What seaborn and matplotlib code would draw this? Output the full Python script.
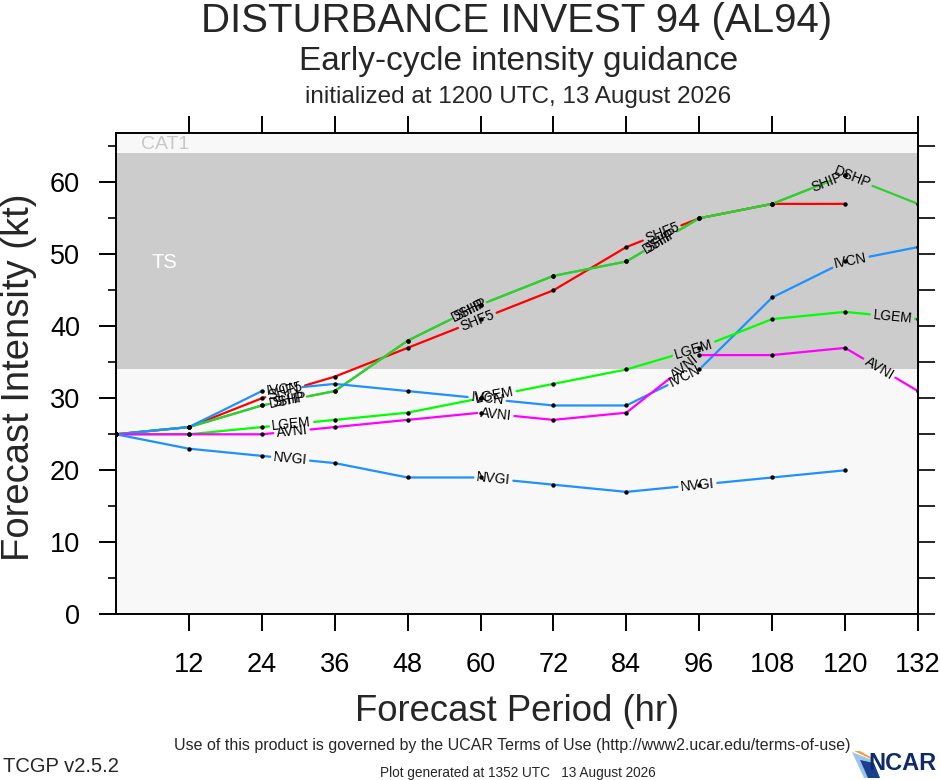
import numpy as np
import pandas as pd
import matplotlib
matplotlib.use("Agg")
import matplotlib.pyplot as plt
from matplotlib.patches import Polygon
import seaborn as sns

# forecast hours and intensities (kt)
hours = [0, 12, 24, 36, 48, 60, 72, 84, 96, 108, 120, 132]
shf5 = [25, 26, 30, 33, 37, 41, 45, 51, 55, 57, 57, np.nan]
ship = [25, 26, 29, 31, 38, 43, 47, 49, 55, 57, 61, np.nan]
dshp = [25, 26, 29, 31, 38, 43, 47, 49, 55, 57, 61, 57]
lgem = [25, 25, 26, 27, 28, 30, 32, 34, 37, 41, 42, 41]
ivcn = [25, 26, 31, 32, 31, 30, 29, 29, 34, 44, 49, 51]
avni = [25, 25, 25, 26, 27, 28, 27, 28, 36, 36, 37, 31]
nvgi = [25, 23, 22, 21, 19, 19, 18, 17, 18, 19, 20, np.nan]

models = ["SHF5", "SHIP", "DSHP", "IVCN", "LGEM", "AVNI", "NVGI"]
values = [shf5, ship, dshp, ivcn, lgem, avni, nvgi]
colors = ["#ff0000", "#33cc33", "#33cc33", "#1e90ff", "#00ff00", "#ff00ff", "#1e90ff"]

xticks = [12, 24, 36, 48, 60, 72, 84, 96, 108, 120, 132]
yticks = [0, 10, 20, 30, 40, 50, 60]

rows = []
for name, vals in zip(models, values):
    for h, v in zip(hours, vals):
        if not np.isnan(v):
            rows.append({"model": name, "hour": h, "kt": v})
df = pd.DataFrame(rows)

sns.set_theme(style="ticks")
plt.rcParams["font.family"] = ["Liberation Sans", "DejaVu Sans"]

fig = plt.figure(figsize=(9.4, 7.8), dpi=100)
ax = fig.add_axes([116 / 940, (780 - 614.3) / 780, 802 / 940, 481 / 780])
ax.set_xlim(0, 132)
ax.set_ylim(0, 66.8)
ax.set_facecolor("#f8f8f8")
ax.axhspan(34, 64, color="#cccccc", zorder=0, lw=0)
ax.text(4.1, 65.25, "CAT1", color="#c8c8c8", fontsize=14, va="center", ha="left")
ax.text(5.9, 48.9, "TS", color="white", fontsize=14.5, va="center", ha="left")

for sp in ax.spines.values():
    sp.set_linewidth(1.4)
    sp.set_color("black")
ax.set_xticks(xticks)
ax.set_yticks(yticks)
ax.set_yticks(range(5, 66, 10), minor=True)
ax.tick_params(axis="both", which="major", length=12, width=1.4, labelsize=19.5,
               color="black", labelcolor="black", direction="out")
ax.tick_params(axis="x", pad=15.5, top=True)
ax.tick_params(axis="y", pad=14)
ax.tick_params(axis="y", which="minor", length=6, width=1.4, direction="out")
ax.grid(False)

sec = ax.secondary_yaxis("right")
sec.set_yticks(range(0, 66, 5))
sec.set_yticklabels([])
sec.tick_params(length=12, width=1.4, direction="out")
sec.spines["right"].set_linewidth(1.4)

fig.canvas.draw()
renderer = fig.canvas.get_renderer()

# line labels sit along each curve at a fixed arc-length spacing (pixels)
label_first = 176.0
label_step = 205.0
label_size = 10

pieces = []
for name, vals, col in zip(models, values, colors):
    sub = df[df.model == name]
    pts = ax.transData.transform(sub[["hour", "kt"]].to_numpy(dtype=float))
    seg = np.hypot(*np.diff(pts, axis=0).T)
    cum = np.concatenate([[0.0], np.cumsum(seg)])
    total = cum[-1]
    probe = ax.text(0, 0, name, fontsize=label_size)
    half = probe.get_window_extent(renderer).width / 2 + 3
    probe.remove()

    centers = []
    s = label_first
    while s < total + 12:
        centers.append(min(s, total - half))
        s += label_step

    def at(s):
        return np.array([np.interp(s, cum, pts[:, 0]), np.interp(s, cum, pts[:, 1])])

    bounds = []
    start = 0.0
    for c in centers:
        bounds.append((start, c - half))
        start = c + half
    bounds.append((start, total))
    for k, (a, b) in enumerate(bounds):
        if b <= a:
            continue
        inner = [pts[i] for i in range(len(pts)) if a < cum[i] < b]
        verts = np.array([at(a)] + inner + [at(b)])
        data = ax.transData.inverted().transform(verts)
        for x, y in data:
            pieces.append({"model": name, "piece": k, "hour": x, "kt": y})

    for c in centers:
        i = min(max(np.searchsorted(cum, c) - 1, 0), len(seg) - 1)
        d = pts[i + 1] - pts[i]
        ang = np.degrees(np.arctan2(d[1], d[0]))
        xd, yd = ax.transData.inverted().transform(at(c))
        ax.text(xd, yd, name, fontsize=label_size, rotation=ang, rotation_mode="anchor",
                ha="center", va="center", color="black", zorder=6)

pieces = pd.DataFrame(pieces)
for name, col in zip(models, colors):
    sns.lineplot(data=pieces[pieces.model == name], x="hour", y="kt", units="piece",
                 estimator=None, sort=False, color=col, lw=1.6, ax=ax, zorder=3)

sns.scatterplot(data=df, x="hour", y="kt", color="black", s=10, linewidth=0,
                legend=False, ax=ax, zorder=5)
ax.set_xlim(0, 132)
ax.set_ylim(0, 66.8)
ax.set_xlabel("")
ax.set_ylabel("")

fig.text(517 / 940, 1 - 32 / 780, "DISTURBANCE INVEST 94 (AL94)", fontsize=29,
         ha="center", va="baseline")
fig.text(519 / 940, 1 - 70 / 780, "Early-cycle intensity guidance", fontsize=24,
         ha="center", va="baseline")
fig.text(518 / 940, 1 - 103 / 780, "initialized at 1200 UTC, 13 August 2026", fontsize=17.5,
         ha="center", va="baseline")
fig.text(517 / 940, 1 - 721 / 780, "Forecast Period (hr)", fontsize=26.3,
         ha="center", va="baseline")
fig.text(19 / 940, 1 - 377 / 780, "Forecast Intensity (kt)", fontsize=27.5,
         ha="center", va="center", rotation=90)

fig.text(512 / 940, 1 - 750 / 780,
         "Use of this product is governed by the UCAR Terms of Use (http://www2.ucar.edu/terms-of-use)",
         fontsize=11.5, ha="center", va="baseline")
fig.text(3 / 940, 1 - 772 / 780, "TCGP v2.5.2", fontsize=14.5, ha="left", va="baseline")
fig.text(518 / 940, 1 - 777 / 780, "Plot generated at 1352 UTC   13 August 2026",
         fontsize=9.8, ha="center", va="baseline")

# NCAR logo: swoosh plus lettering
sw = Polygon([[852 / 940, 1 - 752 / 780], [864 / 940, 1 - 778 / 780], [880 / 940, 1 - 778 / 780],
              [872 / 940, 1 - 760 / 780]], closed=True, transform=fig.transFigure,
             facecolor="#9ec4e8", edgecolor="none")
sw2 = Polygon([[860 / 940, 1 - 760 / 780], [868 / 940, 1 - 778 / 780], [880 / 940, 1 - 778 / 780],
               [874 / 940, 1 - 763 / 780]], closed=True, transform=fig.transFigure,
              facecolor="#1b3f8f", edgecolor="none")
sw3 = Polygon([[854 / 940, 1 - 751 / 780], [860 / 940, 1 - 751 / 780], [874 / 940, 1 - 759 / 780],
               [871 / 940, 1 - 759 / 780]], closed=True, transform=fig.transFigure,
              facecolor="#f0a040", edgecolor="none")
fig.patches.extend([sw, sw2, sw3])
fig.text(936 / 940, 1 - 770 / 780, "NCAR", fontsize=17, fontweight="bold", color="#0e2a6b",
         ha="right", va="baseline")

fig.savefig("out.png", dpi=100)
